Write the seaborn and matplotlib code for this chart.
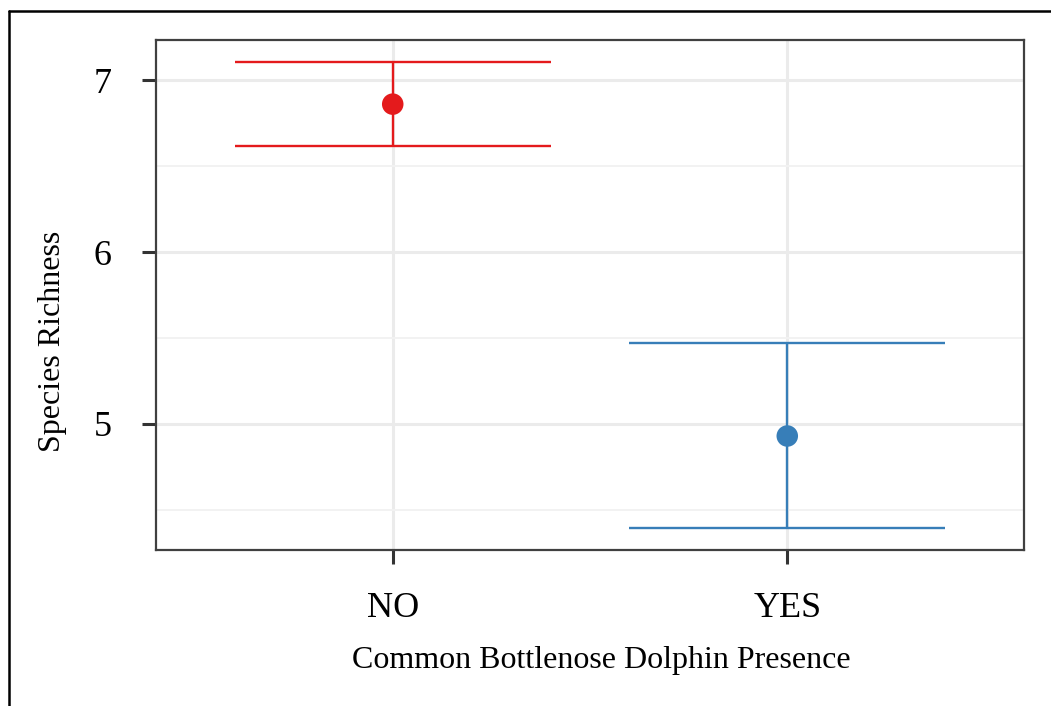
import pandas as pd
import matplotlib.pyplot as plt
import seaborn as sns
from matplotlib.lines import Line2D
from matplotlib.ticker import MultipleLocator

# data
presence = ['NO', 'YES']
richness = [6.86, 4.93]
lower = [6.616, 4.395]
upper = [7.105, 5.47]
colors = ['#E41A1C', '#377EB8']

df = pd.DataFrame({'Presence': presence, 'Richness': richness,
                   'Lower': lower, 'Upper': upper})

sns.set_style('white')
plt.rcParams['font.family'] = ['Liberation Serif', 'DejaVu Serif']
plt.rcParams['text.color'] = 'black'
plt.rcParams['axes.labelcolor'] = 'black'

fig = plt.figure(figsize=(10.51, 7.06), dpi=100)
ax = fig.add_axes([156 / 1051, 1 - 550 / 706, 868 / 1051, 510 / 706])

# error bars first, points on top
for i, row in df.iterrows():
    ax.vlines(i, row['Lower'], row['Upper'], color=colors[i], lw=1.7, zorder=3)
    ax.hlines([row['Lower'], row['Upper']], i - 0.4, i + 0.4, color=colors[i], lw=1.7, zorder=3)

sns.scatterplot(data=df, x='Presence', y='Richness', hue='Presence',
                palette=colors, s=240, edgecolor='none', legend=False, ax=ax, zorder=4)

ax.set_xlim(-0.6, 1.6)
ax.set_ylim(4.267, 7.233)
ax.yaxis.set_major_locator(MultipleLocator(1))
ax.yaxis.set_minor_locator(MultipleLocator(0.5))
ax.grid(True, which='major', color='#EBEBEB', lw=2.2, zorder=0)
ax.grid(True, which='minor', axis='y', color='#F2F2F2', lw=1.4, zorder=0)
ax.set_axisbelow(True)

for sp in ax.spines.values():
    sp.set_color('#404040')
    sp.set_linewidth(1.6)

ax.tick_params(axis='both', which='major', length=10, width=2.2, color='#333333',
               labelsize=26, labelcolor='black', bottom=True, left=True)
ax.tick_params(axis='y', which='minor', length=0)
ax.tick_params(axis='y', pad=22)
ax.tick_params(axis='x', pad=20)

ax.set_xlabel('Common Bottlenose Dolphin Presence', fontsize=23)
ax.xaxis.set_label_coords(0.5127, -0.188)
ax.set_ylabel('Species Richness', fontsize=23)
ax.yaxis.set_label_coords(-0.1025, 0.41)

# black frame lines on top and left of the image
fig.add_artist(Line2D([9 / 1051, 9 / 1051], [0, 1 - 11 / 706], transform=fig.transFigure,
                      color='black', lw=1.8))
fig.add_artist(Line2D([9 / 1051, 1], [1 - 11 / 706, 1 - 11 / 706], transform=fig.transFigure,
                      color='black', lw=1.8))

plt.savefig('out.png', dpi=100)
